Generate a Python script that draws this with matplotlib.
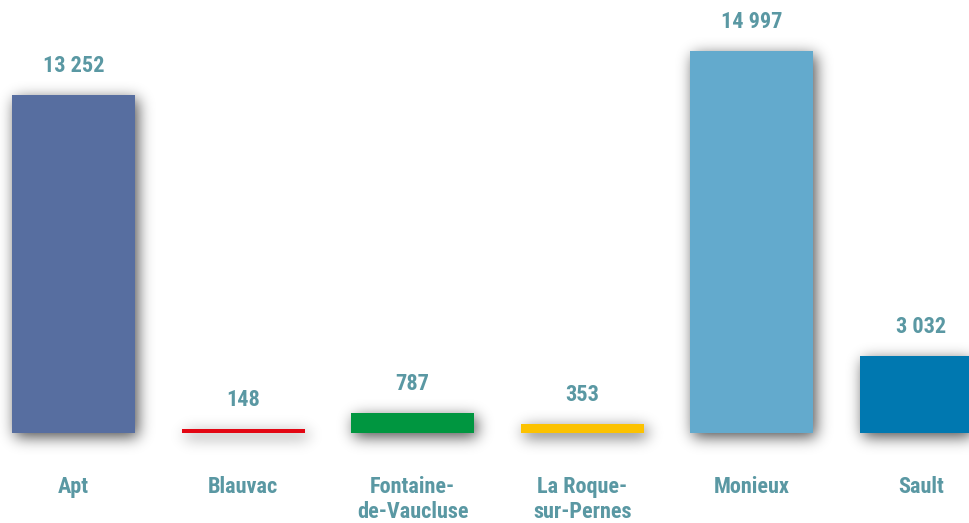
import matplotlib
matplotlib.use("Agg")
import numpy as np
import matplotlib.pyplot as plt
from matplotlib.patches import Rectangle
from matplotlib import font_manager

communes = ["Apt", "Blauvac", "Fontaine-\nde-Vaucluse", "La Roque-\nsur-Pernes", "Monieux", "Sault"]
values = [13252, 148, 787, 353, 14997, 3032]
value_labels = ["13 252", "148", "787", "353", "14 997", "3 032"]
colors = ["#576ea0", "#e30613", "#009640", "#fcc200", "#63aacd", "#0078b0"]

text_color = "#5a98a3"
names = {f.name for f in font_manager.fontManager.ttflist}
fam = [f for f in ["Roboto Condensed", "Liberation Sans Narrow", "Roboto", "DejaVu Sans"] if f in names] or ["DejaVu Sans"]


def make_shadow_filter(sigma=7.5, ox=3, oy=4, alpha=0.7):
    pad = int(sigma * 3) + 6
    r = np.arange(-int(3 * sigma), int(3 * sigma) + 1)
    k = np.exp(-0.5 * (r / sigma) ** 2)
    k /= k.sum()

    def f(im, dpi):
        src = np.pad(im, [(pad, pad), (pad, pad), (0, 0)], "constant")
        a = src[:, :, 3]
        a = np.apply_along_axis(lambda m: np.convolve(m, k, mode="same"), 0, a)
        a = np.apply_along_axis(lambda m: np.convolve(m, k, mode="same"), 1, a)
        a = np.roll(a, ox, axis=1)
        a = np.roll(a, oy, axis=0)
        out = np.zeros_like(src)
        out[:, :, 3] = np.clip(a * alpha, 0, 1)
        return out, -pad, -pad
    return f


fig = plt.figure(figsize=(9.69, 5.23), dpi=100)
ax = fig.add_axes([0, 0, 1, 1])
ax.set_axis_off()

x = list(range(len(values)))
bars = ax.bar(x, values, width=0.725, color=colors, zorder=3)

filt = make_shadow_filter()
for b in bars:
    sh = Rectangle(b.get_xy(), b.get_width(), b.get_height(), facecolor="black",
                   edgecolor="none", zorder=2)
    sh.set_agg_filter(filt)
    sh.set_rasterized(True)
    ax.add_patch(sh)

ppx = 0.72  # points per pixel
for xi, v, lab in zip(x, values, value_labels):
    ax.annotate(lab, (xi, v), xytext=(0, 29 * ppx), textcoords="offset points",
                ha="center", va="center", color=text_color, fontsize=16,
                fontweight="bold", family=fam)

for xi, name in zip(x, communes):
    ax.text(xi, -1700, name, ha="center", va="top", color=text_color, fontsize=16,
            fontweight="bold", family=fam, linespacing=1.15)

ax.set_xlim(-0.4334, 5.280)
ax.set_ylim(-3534, 17000)

fig.savefig("out.png", dpi=100)
